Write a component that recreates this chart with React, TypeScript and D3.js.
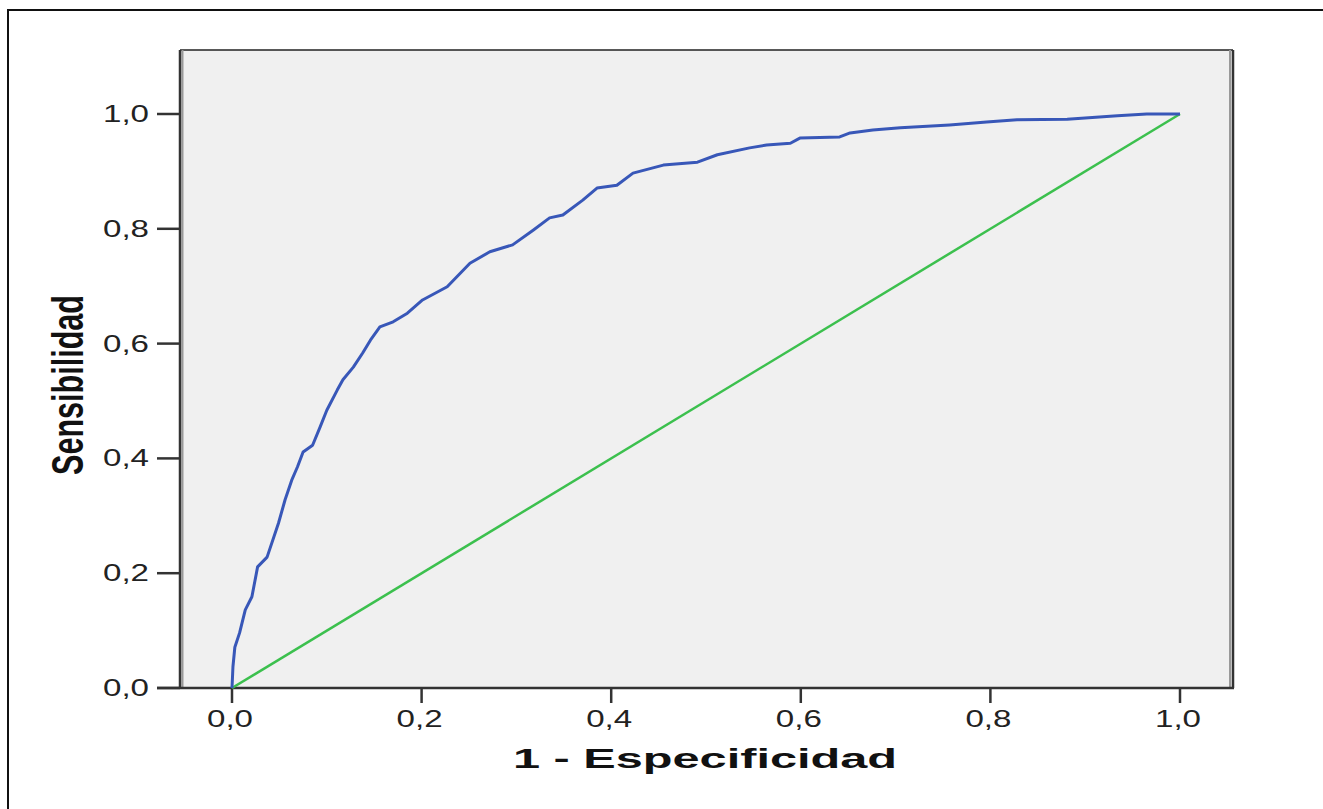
import { useEffect, useRef } from "react";
import * as d3 from "d3";

// ROC curve: 1 - specificity, sensitivity
const fpr = [
  0, 0.001, 0.003, 0.008, 0.014, 0.021, 0.027, 0.037, 0.049, 0.056, 0.063, 0.069,
  0.075, 0.085, 0.093, 0.1, 0.111, 0.117, 0.128, 0.138, 0.146, 0.156, 0.17, 0.185,
  0.201, 0.227, 0.251, 0.272, 0.296, 0.318, 0.335, 0.349, 0.37, 0.385, 0.406, 0.423,
  0.455, 0.491, 0.512, 0.546, 0.564, 0.589, 0.599, 0.641, 0.652, 0.676, 0.705, 0.757,
  0.796, 0.828, 0.881, 0.934, 0.965, 1,
];
const tpr = [
  0, 0.037, 0.071, 0.096, 0.136, 0.159, 0.211, 0.228, 0.287, 0.328, 0.362, 0.385,
  0.411, 0.423, 0.455, 0.484, 0.519, 0.537, 0.559, 0.584, 0.606, 0.629, 0.638, 0.653,
  0.676, 0.699, 0.74, 0.76, 0.772, 0.798, 0.819, 0.824, 0.85, 0.871, 0.876, 0.897,
  0.911, 0.916, 0.929, 0.941, 0.946, 0.949, 0.958, 0.96, 0.967, 0.972, 0.976, 0.981,
  0.986, 0.99, 0.991, 0.997, 1, 1,
];
const refLine = [0, 1];
const ticks = [0, 0.2, 0.4, 0.6, 0.8, 1.0];

const W = 1323;
const H = 809;
const plot = { left: 180, top: 50, right: 1233, bottom: 688 };

const fmt = (v: number) => v.toFixed(1).replace(".", ",");

export default function App() {
  const ref = useRef<SVGSVGElement | null>(null);

  useEffect(() => {
    const svg = d3.select(ref.current);
    svg.selectAll("*").remove();

    const x = d3.scaleLinear().domain([0, 1]).range([232, 1180]);
    const y = d3.scaleLinear().domain([0, 1]).range([688, 114]);
    const font = "'Liberation Sans', Arial, sans-serif";

    // outer frame
    svg.append("rect")
      .attr("x", 8).attr("y", 10).attr("width", 1330).attr("height", 900)
      .attr("fill", "none").attr("stroke", "#111").attr("stroke-width", 2);

    // plot background
    svg.append("rect")
      .attr("x", plot.left).attr("y", plot.top)
      .attr("width", plot.right - plot.left).attr("height", plot.bottom - plot.top)
      .attr("fill", "#f0f0f0");

    // frame edges
    svg.append("line")
      .attr("x1", plot.left).attr("x2", plot.right).attr("y1", plot.top).attr("y2", plot.top)
      .attr("stroke", "#222").attr("stroke-width", 1.5);
    svg.append("line")
      .attr("x1", plot.left + 2.5).attr("x2", plot.left + 2.5).attr("y1", plot.top).attr("y2", plot.bottom)
      .attr("stroke", "#999").attr("stroke-width", 2);
    svg.append("line")
      .attr("x1", plot.left).attr("x2", plot.left).attr("y1", plot.top).attr("y2", plot.bottom)
      .attr("stroke", "#333").attr("stroke-width", 2.5);
    svg.append("line")
      .attr("x1", plot.right - 3).attr("x2", plot.right - 3).attr("y1", plot.top).attr("y2", plot.bottom)
      .attr("stroke", "#999").attr("stroke-width", 2);
    svg.append("line")
      .attr("x1", plot.right).attr("x2", plot.right).attr("y1", plot.top).attr("y2", plot.bottom)
      .attr("stroke", "#333").attr("stroke-width", 2.5);
    svg.append("line")
      .attr("x1", 157).attr("x2", plot.right + 1).attr("y1", plot.bottom).attr("y2", plot.bottom)
      .attr("stroke", "#333").attr("stroke-width", 2.5);

    // y ticks
    ticks.forEach((t) => {
      svg.append("line")
        .attr("x1", 157).attr("x2", plot.left).attr("y1", y(t)).attr("y2", y(t))
        .attr("stroke", "#333").attr("stroke-width", 2.5);
      svg.append("text")
        .attr("x", 149).attr("y", y(t) + 8)
        .attr("text-anchor", "end")
        .attr("textLength", 46).attr("lengthAdjust", "spacingAndGlyphs")
        .style("font-family", font).style("font-size", "23px").attr("fill", "#222")
        .text(fmt(t));
    });

    // x ticks
    ticks.forEach((t) => {
      svg.append("line")
        .attr("x1", x(t)).attr("x2", x(t)).attr("y1", plot.bottom).attr("y2", 703)
        .attr("stroke", "#333").attr("stroke-width", 2.5);
      svg.append("text")
        .attr("x", x(t) - 2).attr("y", 727)
        .attr("text-anchor", "middle")
        .attr("textLength", 46).attr("lengthAdjust", "spacingAndGlyphs")
        .style("font-family", font).style("font-size", "23px").attr("fill", "#222")
        .text(fmt(t));
    });

    // axis titles
    svg.append("text")
      .attr("x", 705).attr("y", 768)
      .attr("text-anchor", "middle")
      .attr("textLength", 384).attr("lengthAdjust", "spacingAndGlyphs")
      .style("font-family", font).style("font-size", "28px").style("font-weight", "bold")
      .attr("fill", "#111")
      .text("1 - Especificidad");

    svg.append("text")
      .attr("transform", "translate(83,385) rotate(-90)")
      .attr("text-anchor", "middle")
      .attr("textLength", 180).attr("lengthAdjust", "spacingAndGlyphs")
      .style("font-family", font).style("font-size", "44px").style("font-weight", "bold")
      .attr("fill", "#111")
      .text("Sensibilidad");

    // reference diagonal
    const diag = d3.line<number>().x((d) => x(d)).y((d) => y(d));
    svg.append("path")
      .attr("d", diag(refLine))
      .attr("fill", "none").attr("stroke", "#3cc04e").attr("stroke-width", 2.5);

    // ROC curve
    const pts = fpr.map((v, i) => [v, tpr[i]] as [number, number]);
    const roc = d3.line<[number, number]>().x((d) => x(d[0])).y((d) => y(d[1]));
    svg.append("path")
      .attr("d", roc(pts))
      .attr("fill", "none").attr("stroke", "#3857b8").attr("stroke-width", 3)
      .attr("stroke-linejoin", "round");
  }, []);

  return (
    <svg
      ref={ref}
      width={W}
      height={H}
      style={{ position: "absolute", left: 0, top: 0, background: "#fff" }}
    />
  );
}
